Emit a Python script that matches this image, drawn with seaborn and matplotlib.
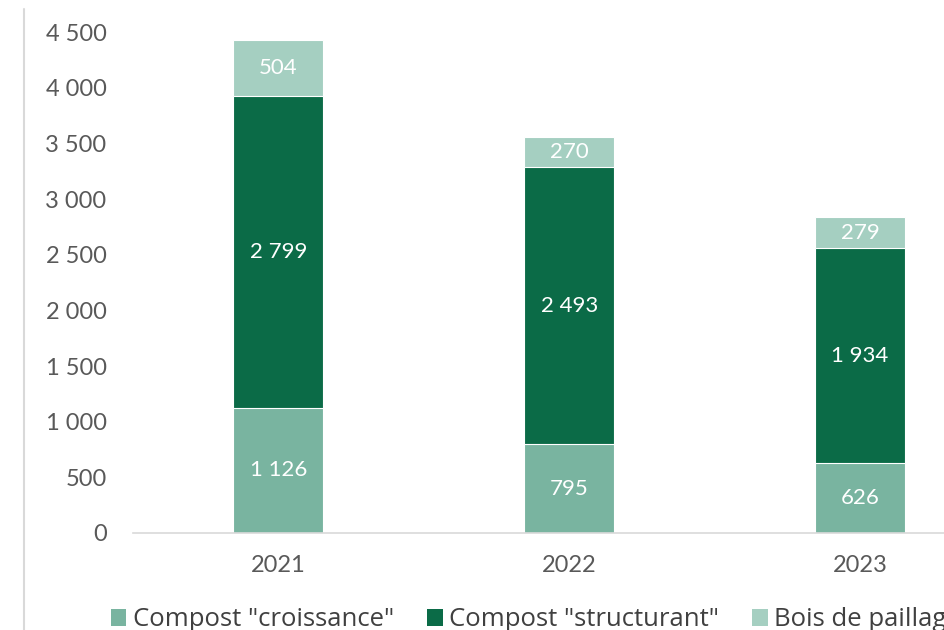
import numpy as np
import pandas as pd
import seaborn as sns
import matplotlib.pyplot as plt
from matplotlib.patches import Patch
from matplotlib.lines import Line2D

years = ["2021", "2022", "2023"]
croissance = [1126, 795, 626]
structurant = [2799, 2493, 1934]
paillage = [504, 270, 279]
series_names = ['Compost "croissance"', 'Compost "structurant"', "Bois de paillage"]
colors = ["#79B4A0", "#0B6B47", "#A5CFC1"]

def fmt(v):
    return f"{int(v):,}".replace(",", " ")

sns.set_theme(style="white")
plt.rcParams["font.family"] = ["Lato", "DejaVu Sans"]

df = pd.DataFrame({"year": years, "c": croissance, "s": structurant, "p": paillage})
df["cs"] = df["c"] + df["s"]
df["total"] = df["cs"] + df["p"]

fig = plt.figure(figsize=(9.44, 6.3), dpi=100)
ax = fig.add_axes([0.1409, 0.154, 0.924, 0.795])

# stacked by overlaying cumulative bars
for col, color in zip(["total", "cs", "c"], [colors[2], colors[1], colors[0]]):
    sns.barplot(data=df, x="year", y=col, color=color, width=0.31,
                edgecolor="white", linewidth=0.8, ax=ax, saturation=1)

for i in range(len(years)):
    bottoms = [0, croissance[i], croissance[i] + structurant[i]]
    vals = [croissance[i], structurant[i], paillage[i]]
    for b, v in zip(bottoms, vals):
        ax.text(i, b + v / 2, fmt(v), ha="center", va="center",
                color="white", fontsize=16)

ax.set_xlim(-0.5, 2.5)
ax.set_ylim(0, 4500)
ax.set_yticks(np.arange(0, 4501, 500))
ax.set_yticklabels([fmt(v) for v in np.arange(0, 4501, 500)])
ax.set_xlabel("")
ax.set_ylabel("")
ax.tick_params(axis="y", length=0, pad=19, labelsize=17, labelcolor="#595959")
ax.tick_params(axis="x", length=0, pad=16, labelsize=17, labelcolor="#595959")
for s in ["top", "right", "left"]:
    ax.spines[s].set_visible(False)
ax.spines["bottom"].set_color("#D9D9D9")
ax.spines["bottom"].set_linewidth(1.2)

fig.add_artist(Line2D([0.0255, 0.0255], [0.0, 0.985], transform=fig.transFigure,
                      color="#D9D9D9", linewidth=1.5))

handles = [Patch(facecolor=c, edgecolor="none") for c in colors]
fig.legend(handles, series_names, loc="center left", bbox_to_anchor=(0.093, 0.016),
           ncol=3, frameon=False, handlelength=0.6, handleheight=0.6,
           handletextpad=0.25, columnspacing=1.3, labelcolor="#404040",
           prop={"family": ["Open Sans", "DejaVu Sans"], "size": 18.5})

fig.savefig("out.png", dpi=100)
